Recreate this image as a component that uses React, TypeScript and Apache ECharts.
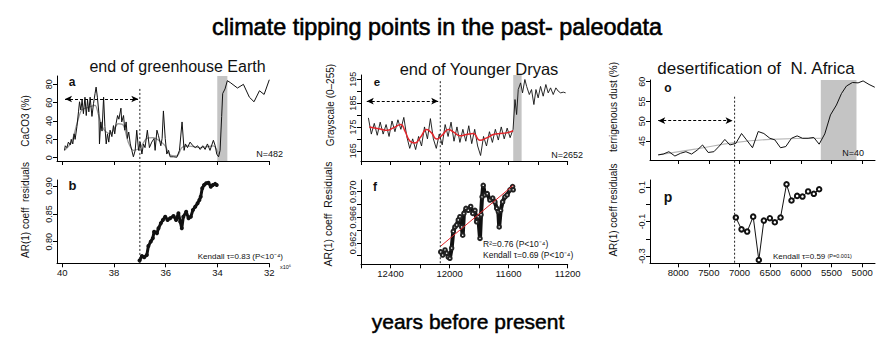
import React, { useEffect, useRef } from "react";
import * as echarts from "echarts";

// ---------- data ----------
// panel a: CaCO3 (%) vs age (x10^6 yr)
const caco3Raw: number[][] = [
  [39.91, 8], [39.88, 13], [39.82, 11], [39.76, 17], [39.69, 14], [39.65, 20], [39.59, 15], [39.54, 26], [39.5, 20], [39.43, 34],
  [39.37, 50], [39.33, 61], [39.28, 52], [39.23, 63], [39.18, 48], [39.12, 66], [39.07, 46], [39.02, 63], [38.97, 50], [38.92, 66],
  [38.85, 45], [38.79, 59], [38.73, 70], [38.69, 77], [38.64, 66], [38.58, 48], [38.56, 15], [38.51, 39], [38.46, 29], [38.4, 66],
  [38.35, 34], [38.3, 15], [38.25, 26], [38.2, 17], [38.15, 30], [38.08, 23], [38.02, 35], [37.97, 26], [37.92, 37], [37.86, 46],
  [37.81, 42], [37.73, 54], [37.7, 39], [37.63, 46], [37.58, 30], [37.53, 39], [37.48, 21], [37.43, 28], [37.37, 15], [37.31, 8],
  [37.25, 1], [37.18, 8], [37.12, 30], [37.05, 8], [36.99, 17], [36.92, 4], [36.86, 15], [36.8, 11], [36.71, 30], [36.63, 11],
  [36.54, 17], [36.45, 21], [36.41, 8], [36.34, 30], [36.28, 24], [36.19, 13], [36.14, 21], [36.09, 51], [36.02, 21], [35.96, 4],
  [35.89, 8], [35.83, 1], [35.7, 1], [35.57, 0.5], [35.47, 8], [35.37, 39], [35.29, 8], [35.24, 15], [35.16, 11], [35.06, 17],
  [34.95, 13], [34.86, 11], [34.77, 13], [34.67, 9], [34.57, 13], [34.48, 9], [34.39, 15], [34.29, 8], [34.16, 19], [34.09, 13],
  [34.03, 4], [33.96, 1], [33.9, 8], [33.84, 45], [33.8, 70], [33.71, 75], [33.62, 84], [33.51, 82], [33.23, 76], [33.0, 80],
  [32.77, 66], [32.59, 61], [32.38, 73], [32.2, 69], [32.0, 85],
];
const caco3Smooth: number[][] = [
  [39.91, 8], [39.64, 17], [39.42, 38], [39.25, 52], [38.99, 55], [38.73, 57], [38.61, 48], [38.4, 31], [38.15, 26], [37.83, 37],
  [37.63, 35], [37.45, 17], [37.25, 8], [36.99, 11], [36.74, 21], [36.48, 22], [36.22, 18], [36.02, 13], [35.83, 3], [35.57, 2],
  [35.38, 11], [35.19, 13], [34.67, 11], [34.16, 13], [33.96, 4],
];
// panel b: AR(1) coefficient of residuals
const ar1b: number[][] = [
  [37.01, 0.766], [36.92, 0.774], [36.83, 0.772], [36.73, 0.776], [36.67, 0.792], [36.58, 0.8], [36.5, 0.806], [36.45, 0.818],
  [36.34, 0.815], [36.28, 0.824], [36.19, 0.833], [36.11, 0.839], [36.02, 0.845], [35.93, 0.839], [35.83, 0.842], [35.7, 0.846],
  [35.6, 0.839], [35.51, 0.851], [35.44, 0.836], [35.38, 0.824], [35.32, 0.845], [35.21, 0.854], [35.12, 0.842], [35.03, 0.845],
  [34.95, 0.857], [34.86, 0.863], [34.77, 0.869], [34.7, 0.875], [34.65, 0.881], [34.59, 0.896], [34.52, 0.902], [34.44, 0.905],
  [34.35, 0.906], [34.26, 0.899], [34.18, 0.902], [34.09, 0.904], [34.03, 0.902],
];
// panel e: grayscale (0-255) vs years BP
const grayRaw: number[][] = [
  [12550, 178.8], [12530, 172], [12510, 176.5], [12490, 171.5], [12470, 177], [12450, 172], [12430, 176], [12410, 171],
  [12390, 177.5], [12370, 173], [12350, 178], [12330, 174], [12310, 179], [12290, 171], [12270, 166], [12250, 170],
  [12230, 165.5], [12210, 171], [12190, 167], [12170, 175], [12150, 170], [12130, 178.5], [12110, 170], [12090, 166],
  [12070, 172], [12050, 167.5], [12030, 176], [12010, 171], [11990, 177], [11970, 169], [11950, 175], [11930, 168.5],
  [11910, 174], [11890, 169], [11870, 175.5], [11850, 168], [11830, 174], [11810, 167], [11790, 163], [11770, 171],
  [11750, 167], [11730, 173], [11710, 168.5], [11690, 174], [11670, 169.5], [11650, 175], [11630, 170], [11610, 174.5],
  [11590, 170.5], [11570, 174], [11557, 186.5], [11546, 180.2], [11535, 190.7], [11519, 193.5], [11506, 189.3], [11490, 194.9],
  [11478, 192], [11460, 188.6], [11445, 190.7], [11429, 184.4], [11415, 190.7], [11400, 187.2], [11384, 192], [11366, 187.9],
  [11348, 192.8], [11332, 189.3], [11316, 191.4], [11298, 188.6], [11280, 191.4], [11264, 190], [11248, 189.3], [11230, 189.6],
  [11214, 189.3],
];
const graySmooth: number[][] = [
  [12544, 175], [12471, 174.1], [12422, 173.6], [12381, 174.6], [12331, 176], [12302, 173.2], [12268, 169], [12234, 168.3],
  [12196, 170.8], [12155, 173.9], [12122, 172.5], [12088, 169.9], [12047, 171.8], [12009, 173.9], [11970, 172.7], [11930, 171.3],
  [11885, 171.8], [11840, 172.2], [11794, 169.4], [11749, 170.4], [11704, 171.8], [11659, 172.2], [11614, 172.5], [11569, 173.4],
];
// panel f
const ar1f: number[][] = [
  [12060, 0.9606], [12047, 0.9601], [12031, 0.9609], [12020, 0.9604], [12009, 0.9598], [11998, 0.9596], [11986, 0.9612],
  [11975, 0.9638], [11964, 0.9645], [11952, 0.9648], [11941, 0.9656], [11930, 0.9661], [11918, 0.9645], [11911, 0.9632],
  [11903, 0.9666], [11889, 0.9674], [11873, 0.9671], [11857, 0.9677], [11843, 0.9666], [11828, 0.9671], [11817, 0.9653],
  [11806, 0.9661], [11794, 0.9627], [11787, 0.9664], [11780, 0.9692], [11772, 0.971], [11761, 0.9695], [11745, 0.9697],
  [11727, 0.9687], [11708, 0.969], [11693, 0.9684], [11681, 0.9674], [11670, 0.9669], [11664, 0.9645], [11654, 0.9671],
  [11641, 0.9684], [11625, 0.9692], [11610, 0.9695], [11591, 0.9703], [11573, 0.9708], [11569, 0.9703],
];
const ar1fFit: number[][] = [[12060, 0.9615], [11569, 0.971]];
// panel o: terrigenous dust (%)
const dust: number[][] = [
  [8326, 41.5], [8244, 41.7], [8152, 42.3], [8054, 41.2], [7961, 41.9], [7874, 42.3], [7782, 41.7], [7690, 42.7], [7603, 44],
  [7511, 42.1], [7418, 42.3], [7331, 43.7], [7239, 45.4], [7157, 44], [7060, 44.4], [6967, 46.9], [6886, 45.3], [6788, 43.3],
  [6695, 47.4], [6603, 46.9], [6505, 45.7], [6424, 45.3], [6331, 43.3], [6245, 43.6], [6152, 45.7], [6060, 46.3], [5973, 45.7],
  [5881, 45.7], [5788, 45.9], [5701, 44.2], [5609, 46.8], [5516, 51.6], [5419, 54.1], [5337, 57.0], [5256, 58.9], [5158, 59.8],
  [5066, 59.7], [4984, 60.2], [4887, 59.3], [4794, 58.6],
];
const dustTrend: number[][] = [[8326, 41.5], [7700, 43.0], [7080, 44.6], [6500, 45.4], [5650, 45.7]];
// panel p
const ar1p: number[][] = [
  [7060, -0.076], [6967, -0.145], [6875, -0.158], [6777, -0.071], [6685, -0.324], [6603, -0.094], [6505, -0.08], [6424, -0.104],
  [6331, -0.076], [6233, 0.118], [6152, 0.023], [6060, 0.05], [5973, 0.046], [5881, 0.076], [5788, 0.062], [5701, 0.089],
];

// tick values
const ticksAX = [32, 34, 36, 38, 40];
const ticksAY = [0, 20, 40, 60, 80];
const ticksBY = [0.8, 0.85, 0.9];
const ticksEX = [11200, 11400, 11600, 11800, 12000, 12200, 12400, 12600];
const labelsFX = [11200, 11600, 12000, 12400];
const ticksEY = [165, 170, 175, 180, 185, 190, 195];
const labelsEY = [165, 175, 185, 195];
const ticksFY = [0.96, 0.962, 0.964, 0.966, 0.968, 0.97];
const labelsFY = [0.962, 0.966, 0.97];
const ticksOX = [5000, 5500, 6000, 6500, 7000, 7500, 8000];
const ticksOY = [45, 50, 55, 60];
const ticksPY = [-0.3, -0.2, -0.1, 0, 0.1];
const labelsPY = [-0.3, -0.1, 0.1];

const FONT = "'Liberation Sans', Arial, Helvetica, sans-serif";

function xAx(gi: number, min: number, max: number, ticks: number[], labels: number[]) {
  return {
    type: "value", gridIndex: gi, min, max, inverse: true,
    axisLine: { show: true, onZero: false, lineStyle: { color: "#000", width: 1 } },
    axisTick: { show: true, length: 4, customValues: ticks, lineStyle: { color: "#000" } },
    axisLabel: labels.length
      ? { show: true, customValues: labels, fontSize: 9.5, color: "#111", margin: 4, fontFamily: FONT, formatter: (v: number) => String(v) }
      : { show: false },
    splitLine: { show: false },
  };
}
function yAx(gi: number, min: number, max: number, ticks: number[], labels: number[], fmt: (v: number) => string) {
  return {
    type: "value", gridIndex: gi, min, max,
    axisLine: { show: true, onZero: false, lineStyle: { color: "#000", width: 1 } },
    axisTick: { show: true, length: 4, customValues: ticks, lineStyle: { color: "#000" } },
    axisLabel: { show: true, customValues: labels, rotate: 90, fontSize: 9, color: "#111", margin: 4, fontFamily: FONT, formatter: fmt },
    splitLine: { show: false },
  };
}

const SHADE = "#c4c4c4";

export default function App() {
  const ref = useRef<HTMLDivElement>(null);
  useEffect(() => {
    document.body.style.margin = "0";
    const chart = echarts.init(ref.current!, null, { renderer: "svg" });
    const fMin = 0.95866, fMax = 0.97183;
    const pMin = -0.343, pMax = 0.1427;
    const arrowLine = (a: number[], b: number[]) => ({
      silent: true, symbol: ["arrow", "arrow"], symbolSize: [5, 7],
      label: { show: false }, itemStyle: { color: "#000" },
      lineStyle: { color: "#000", width: 1, type: [3, 2] },
      data: [[{ coord: a }, { coord: b }]],
    });
    const option: any = {
      animation: false,
      backgroundColor: "#fff",
      grid: [
        { left: 57, top: 76, width: 212.3, height: 85 },
        { left: 57, top: 180, width: 212.3, height: 83.3 },
        { left: 361, top: 75, width: 206.7, height: 86 },
        { left: 361, top: 180, width: 206.7, height: 84.3 },
        { left: 650, top: 80, width: 225, height: 80 },
        { left: 650, top: 180, width: 225, height: 83.3 },
      ],
      xAxis: [
        xAx(0, 32, 40.2, ticksAX, []),
        xAx(1, 32, 40.2, ticksAX, ticksAX),
        xAx(2, 11200, 12600, ticksEX, []),
        xAx(3, 11200, 12600, ticksEX, labelsFX),
        xAx(4, 4790, 8460, ticksOX, []),
        xAx(5, 4790, 8460, ticksOX, ticksOX),
      ],
      yAxis: [
        yAx(0, -3.6, 89.1, ticksAY, ticksAY, (v) => String(v)),
        yAx(1, 0.761, 0.911, ticksBY, ticksBY, (v) => v.toFixed(2)),
        yAx(2, 160.7, 196.8, ticksEY, labelsEY, (v) => String(v)),
        yAx(3, fMin, fMax, ticksFY, labelsFY, (v) => v.toFixed(3)),
        yAx(4, 40.2, 60.43, ticksOY, ticksOY, (v) => String(v)),
        yAx(5, pMin, pMax, ticksPY, labelsPY, (v) => String(Math.round(v * 10) / 10)),
      ],
      series: [
        {
          type: "line", xAxisIndex: 0, yAxisIndex: 0, data: caco3Smooth, showSymbol: false, smooth: 0.3, z: 2,
          lineStyle: { color: "#9a9a9a", width: 1.3 },
          markArea: { silent: true, itemStyle: { color: SHADE }, data: [[{ xAxis: 34.01 }, { xAxis: 33.62 }]] },
        },
        {
          type: "line", xAxisIndex: 0, yAxisIndex: 0, data: caco3Raw, showSymbol: false, z: 3,
          lineStyle: { color: "#111", width: 1 },
          markLine: arrowLine([39.89, 64], [37.06, 64]),
        },
        {
          type: "line", xAxisIndex: 1, yAxisIndex: 1, data: ar1b, symbol: "circle", symbolSize: 4, z: 3,
          itemStyle: { color: "#111" }, lineStyle: { color: "#111", width: 3 },
        },
        {
          type: "line", xAxisIndex: 2, yAxisIndex: 2, data: grayRaw, showSymbol: false, z: 3,
          lineStyle: { color: "#111", width: 0.9 },
          markArea: { silent: true, itemStyle: { color: SHADE }, data: [[{ xAxis: 11569 }, { xAxis: 11512 }]] },
          markLine: arrowLine([12561, 185.8], [12077, 185.8]),
        },
        {
          type: "line", xAxisIndex: 2, yAxisIndex: 2, data: graySmooth, showSymbol: false, smooth: true, z: 4,
          lineStyle: { color: "#e3262b", width: 1.5 },
        },
        {
          type: "line", xAxisIndex: 3, yAxisIndex: 3, data: ar1f, symbol: "emptyCircle", symbolSize: 3.5, z: 3,
          itemStyle: { color: "#222", borderWidth: 1 }, lineStyle: { color: "#111", width: 4 },
        },
        {
          type: "line", xAxisIndex: 3, yAxisIndex: 3, data: ar1fFit, showSymbol: false, z: 4,
          lineStyle: { color: "#e3262b", width: 1 },
        },
        {
          type: "line", xAxisIndex: 4, yAxisIndex: 4, data: dustTrend, showSymbol: false, smooth: true, z: 2,
          lineStyle: { color: "#b5b5b5", width: 1.2 },
          markArea: { silent: true, itemStyle: { color: SHADE }, data: [[{ xAxis: 5674 }, { xAxis: 5092 }]] },
        },
        {
          type: "line", xAxisIndex: 4, yAxisIndex: 4, data: dust, showSymbol: false, z: 3,
          lineStyle: { color: "#111", width: 1 },
          markLine: arrowLine([8326, 50.15], [7113, 50.15]),
        },
        {
          type: "line", xAxisIndex: 5, yAxisIndex: 5, data: ar1p, symbol: "emptyCircle", symbolSize: 4.5, z: 3,
          itemStyle: { color: "#111", borderWidth: 1.5 }, lineStyle: { color: "#111", width: 1 },
        },
      ],
    };
    chart.setOption(option);

    const vl = (xi: number, xv: number, yTopAxis: number, yTop: number, yBotAxis: number, yBot: number) => {
      const x = chart.convertToPixel({ xAxisIndex: xi } as any, xv) as number;
      const y1 = chart.convertToPixel({ yAxisIndex: yTopAxis } as any, yTop) as number;
      const y2 = chart.convertToPixel({ yAxisIndex: yBotAxis } as any, yBot) as number;
      return {
        type: "line", silent: true, z: 10,
        shape: { x1: x, y1, x2: x, y2 },
        style: { stroke: "#222", lineWidth: 1, lineDash: [2, 2] },
      };
    };
    const txt = (x: number, y: number, text: string, size: number, opts: any = {}) => ({
      type: "text", x, y, rotation: opts.rotation || 0, z: 20, silent: true,
      style: {
        text, fontSize: size, fontFamily: FONT, fill: opts.fill || "#111",
        fontWeight: opts.bold ? "bold" : "normal",
        stroke: opts.stroke, lineWidth: opts.stroke ? opts.lw : 0,
        align: opts.align || "center", verticalAlign: "middle", rich: opts.rich,
      },
    });
    const R = Math.PI / 2;
    const graphic: any[] = [
      vl(0, 37.0, 0, 75, 1, 0.761),
      vl(2, 12063, 2, 194.2, 3, fMin),
      vl(4, 7080, 4, 56.2, 5, pMin),
      txt(437, 27, "climate tipping points in the past- paleodata", 23.4, { stroke: "#000", lw: 0.6, fill: "#000" }),
      txt(468, 321, "years before present", 21, { stroke: "#000", lw: 0.5, fill: "#000" }),
      txt(177.5, 66, "end of greenhouse Earth", 16),
      txt(479, 69, "end of Younger Dryas", 16.5),
      txt(756, 68, "desertification of  N. Africa", 17),
      txt(72, 82, "a", 12, { bold: true }),
      txt(72.5, 185, "b", 13, { bold: true }),
      txt(377, 81.5, "e", 11.5, { bold: true }),
      txt(375, 187, "f", 12, { bold: true }),
      txt(668, 88, "o", 12, { bold: true }),
      txt(668, 197, "p", 14, { bold: true }),
      txt(25.5, 121, "CaCO3 (%)", 10, { rotation: R }),
      txt(25, 210, "AR(1) coeff  residuals", 10, { rotation: R }),
      txt(330, 105, "Grayscale (0–255)", 10, { rotation: R }),
      txt(327.5, 214, "AR(1) coeff  Residuals", 10.5, { rotation: R }),
      txt(613, 107, "terrigenous dust (%)", 10, { rotation: R }),
      txt(613.5, 210, "AR(1) coeff residuals", 10, { rotation: R }),
      txt(283, 154, "N=482", 9, { align: "right" }),
      txt(583, 155, "N=2652", 9, { align: "right" }),
      txt(864, 153, "N=40", 9, { align: "right" }),
      txt(283, 256, "Kendall τ=0.83 (P<10⁻⁴)", 8, { align: "right" }),
      txt(280, 267, "x10⁶", 5.5, { align: "left" }),
      txt(483, 244, "R²=0.76 (P<10⁻⁴)", 8.5, { align: "left" }),
      txt(483, 255, "Kendall τ=0.69 (P<10⁻⁴)", 8.5, { align: "left" }),
      txt(773, 256, "{a|Kendall τ=0.59 }{b|(P=0.001)}", 8, {
        align: "left",
        rich: { a: { fontSize: 8, fontFamily: FONT, fill: "#111" }, b: { fontSize: 5.5, fontFamily: FONT, fill: "#111" } },
      }),
    ];
    chart.setOption({ graphic });
    return () => chart.dispose();
  }, []);
  return (
    <div
      ref={ref}
      style={{ position: "fixed", left: 0, top: 0, width: 886, height: 337, background: "#fff" }}
    />
  );
}
